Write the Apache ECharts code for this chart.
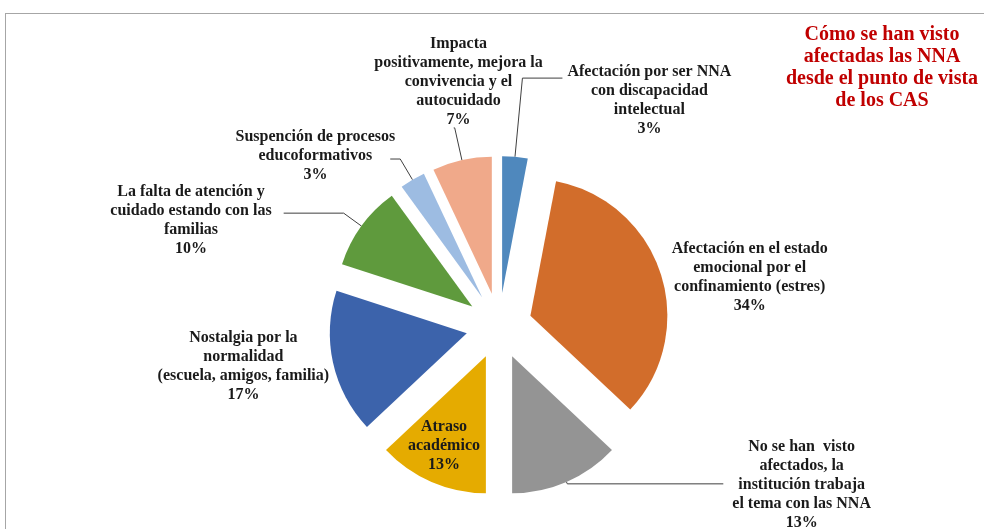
<!DOCTYPE html>
<html>
<head>
<meta charset="utf-8">
<script src="https://cdn.jsdelivr.net/npm/echarts@6/dist/echarts.min.js"></script>
<style>
  html, body { margin: 0; padding: 0; background: #fff; }
  #frame { position: absolute; left: 5px; top: 13px; width: 990px; height: 530px; border: 1px solid #a6a6a6; box-sizing: border-box; }
  #chart { position: absolute; left: 0; top: 0; width: 984px; height: 529px; }
</style>
</head>
<body>
<div id="frame"></div>
<div id="chart"></div>
<script>
// categorias y porcentajes (sentido horario desde las 12)
const categories = [
  'Afectación por ser NNA\ncon discapacidad\nintelectual',
  'Afectación en el estado\nemocional por el\nconfinamiento (estres)',
  'No se han  visto\nafectados, la\ninstitución trabaja\nel tema con las NNA',
  'Atraso\nacadémico',
  'Nostalgia por la\nnormalidad\n(escuela, amigos, familia)',
  'La falta de atención y\ncuidado estando con las\nfamilias',
  'Suspención de procesos\neducoformativos',
  'Impacta\npositivamente, mejora la\nconvivencia y el\nautocuidado'
]
const values = [3, 34, 13, 13, 17, 10, 3, 7]
const titleLines = ['Cómo se han visto', 'afectadas las NNA', 'desde el punto de vista', 'de los CAS']

const colors = ['#4f88bd', '#d26d2b', '#949494', '#e5ab00', '#3c63ab', '#5f9a3d', '#9dbce2', '#f0a98a']
// ajustes de etiqueta por sector: largo de lineas guia y padding del texto
const labelCfg = [
  { len: 79, len2: 40, pad: [44, 0, 0, 0], line: true },
  { len: 0, len2: 2, pad: [8, 0, 0, 4], line: false },
  { len: 2, len2: 156, pad: [3, 0, 0, 4], line: true },
  { inside: true, pad: [48, 27, 0, 0], line: false },
  { len: 2, len2: 0, pad: [5, -3, 0, 0], line: false },
  { len: 22, len2: 60, pad: [-2, 7, -16, 0], line: true },
  { len: 24, len2: 10, pad: [-8, -10, -2, 0], line: true },
  { len: 33, len2: 1, pad: [0, -94, 92, -60], line: true }
]

const fontStyle = {
  fontFamily: 'Liberation Serif',
  fontWeight: 'bold',
  fontSize: 16,
  lineHeight: 19,
  color: '#1a1a1a'
}

const myChart = echarts.init(document.getElementById('chart'))

const option = {
  animation: false,
  title: {
    text: titleLines.join('\n'),
    top: 19,
    textAlign: 'center',
    left: 877,
    textStyle: {
      fontFamily: 'Liberation Serif',
      fontWeight: 'bold',
      fontSize: 20,
      lineHeight: 22,
      color: '#c00000'
    }
  },
  series: [{
    type: 'pie',
    center: [499, 326],
    radius: 137,
    startAngle: 90,
    clockwise: true,
    selectedMode: 'multiple',
    selectedOffset: 33,
    avoidLabelOverlap: false,
    labelLayout: { hideOverlap: false },
    emphasis: { disabled: true },
    label: {
      position: 'outside',
      formatter: function (params) {
        let lines = params.name.split('\n').concat([params.value + '%'])
        return lines.map(l => '{t|' + l + '}').join('\n')
      },
      rich: {
        t: Object.assign({ align: 'center' }, fontStyle)
      }
    },
    labelLine: {
      lineStyle: { color: '#3f3f3f', width: 1 }
    },
    data: categories.map((name, i) => {
      const cfg = labelCfg[i]
      return {
        name: name,
        value: values[i],
        selected: true,
        itemStyle: { color: colors[i] },
        label: {
          position: cfg.inside ? 'inside' : 'outside',
          padding: cfg.pad
        },
        labelLine: {
          show: cfg.line,
          length: cfg.len || 0,
          length2: cfg.len2 || 0
        }
      }
    })
  }]
}

myChart.setOption(option)
</script>
</body>
</html>
